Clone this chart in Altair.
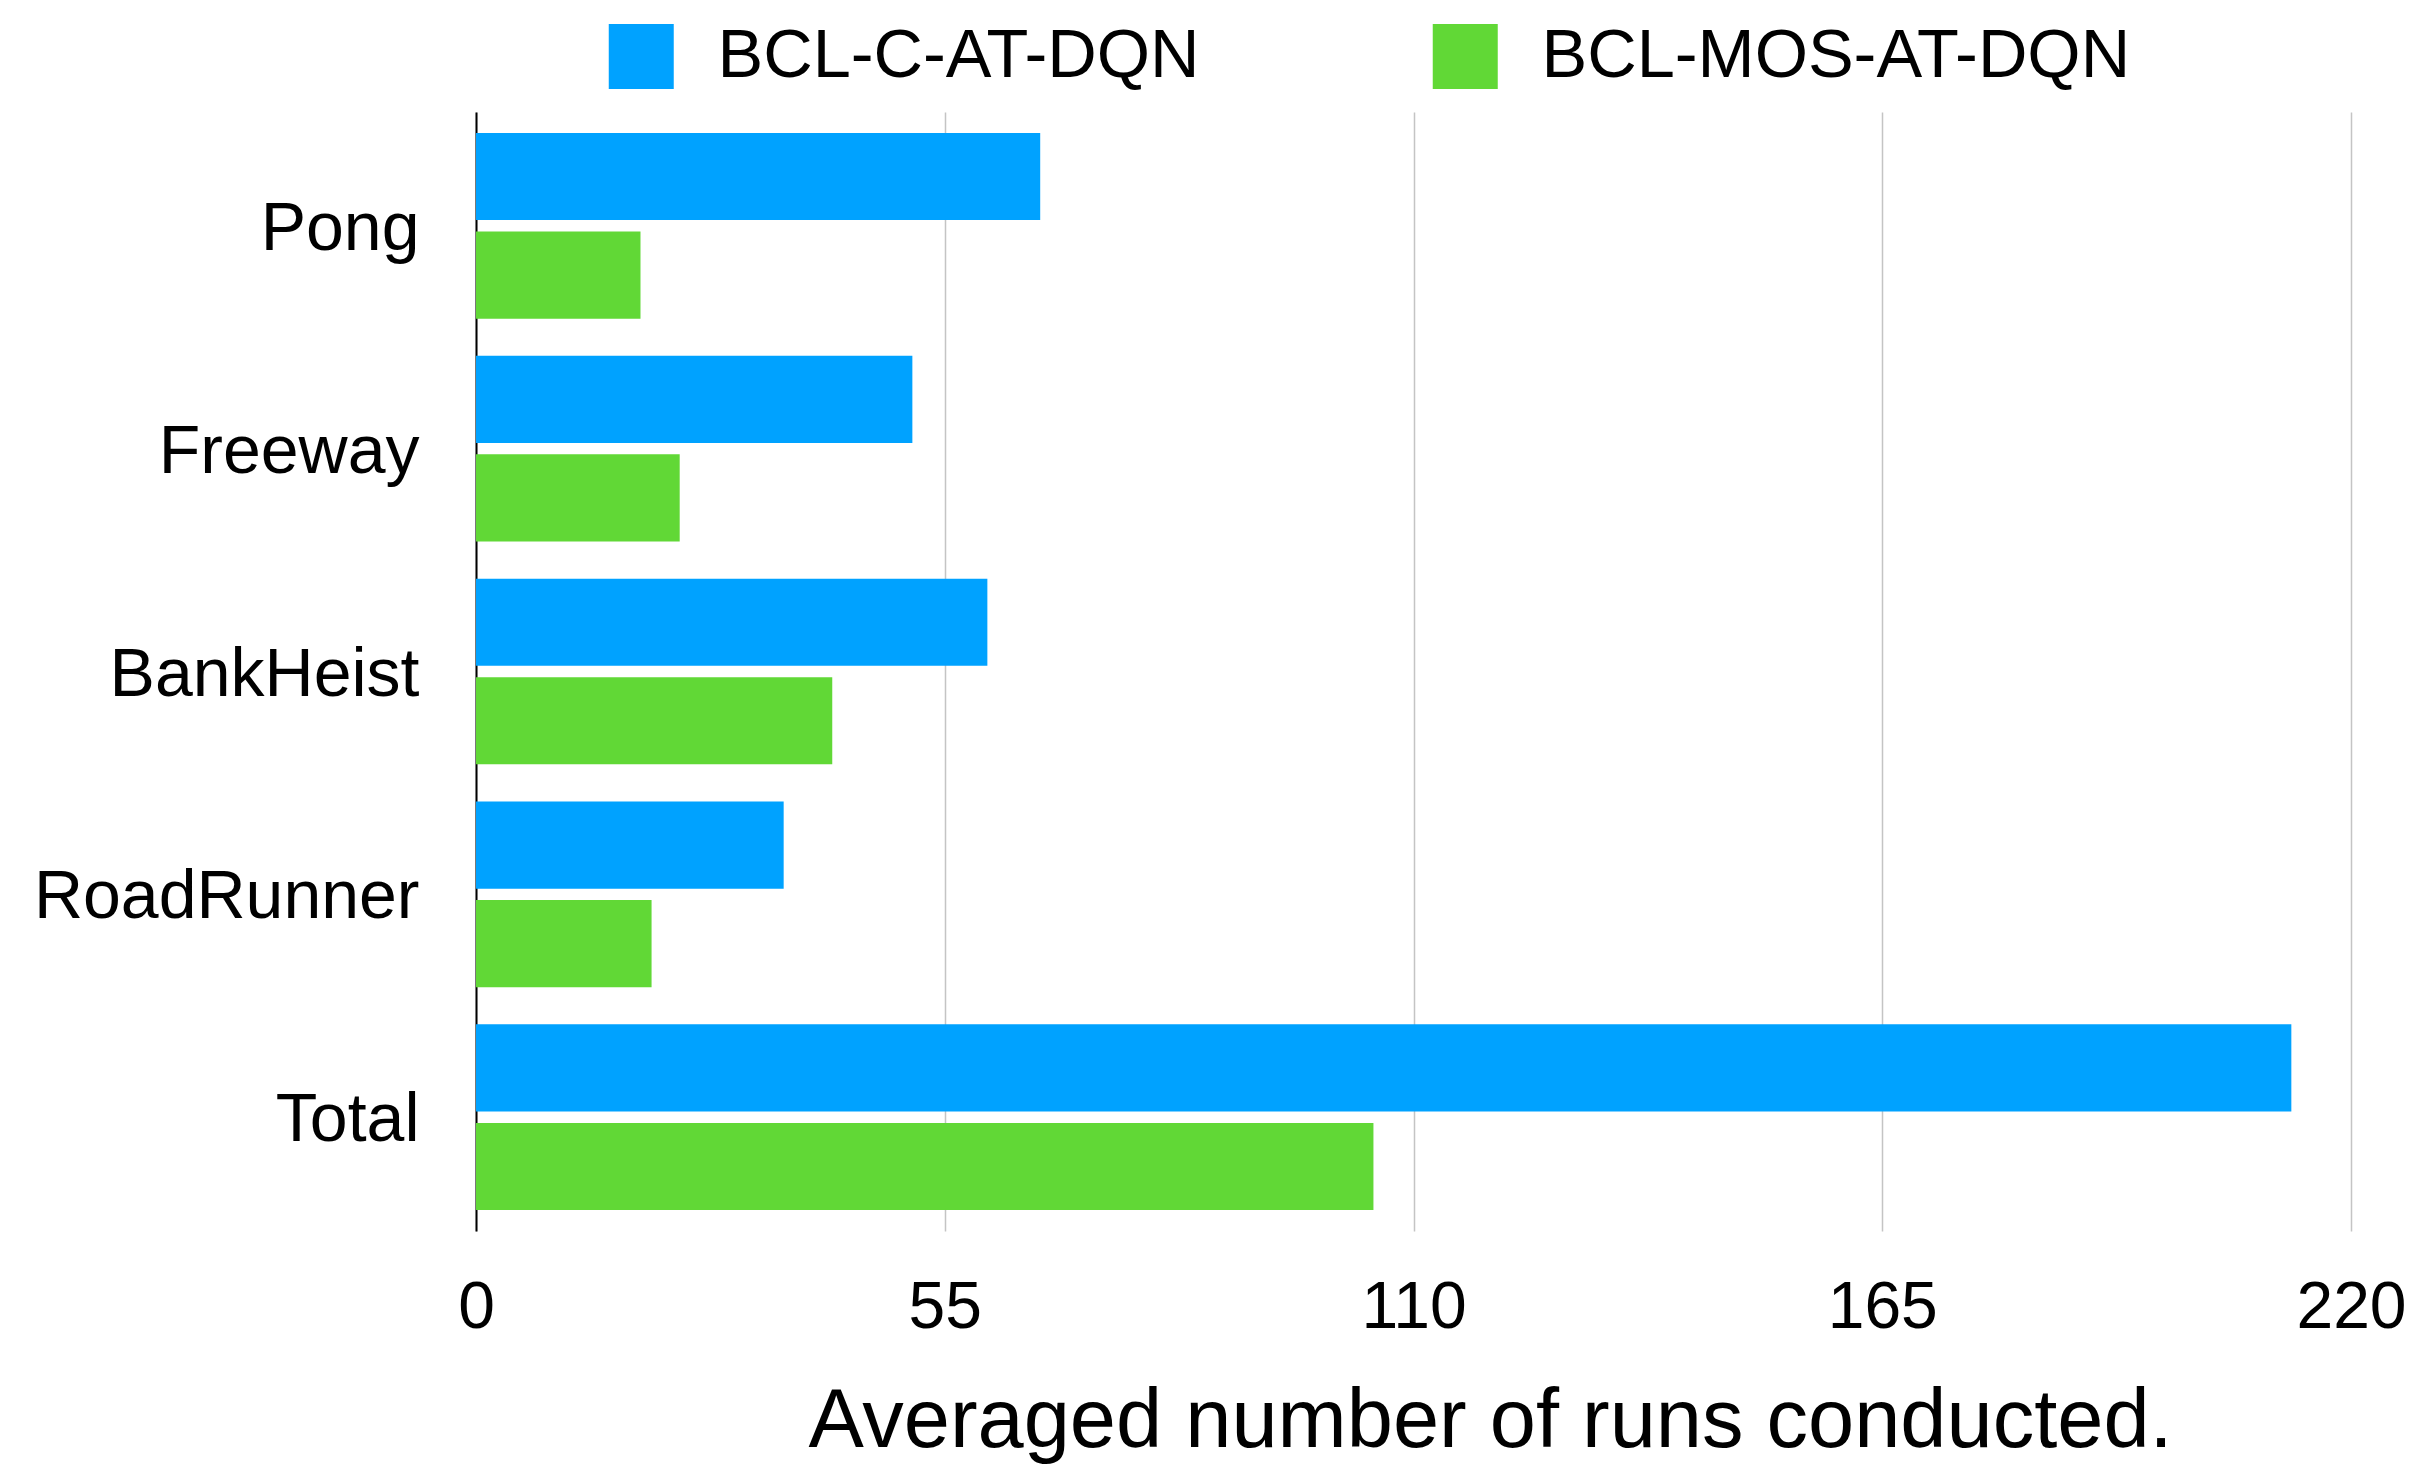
import altair as alt
import pandas as pd

games = ["Pong", "Freeway", "BankHeist", "RoadRunner", "Total"]
series = ["BCL-C-AT-DQN", "BCL-MOS-AT-DQN"]
c_at_dqn = [66.2, 51.2, 60.0, 36.1, 213.0]
mos_at_dqn = [19.3, 23.9, 41.8, 20.6, 105.3]
colors = ["#00A2FF", "#61D836"]
x_ticks = [0, 55, 110, 165, 220]
x_title = "Averaged number of runs conducted."

rows = []
for g, a, b in zip(games, c_at_dqn, mos_at_dqn):
    rows.append({"game": g, "series": series[0], "value": a})
    rows.append({"game": g, "series": series[1], "value": b})
df = pd.DataFrame(rows)

FONT = "Liberation Sans"

chart = alt.Chart(df).mark_bar().encode(
    y=alt.Y(
        "game:N",
        sort=games,
        scale=alt.Scale(paddingInner=0.1667, paddingOuter=0.094),
        axis=alt.Axis(
            title=None,
            labelFontSize=68,
            labelFont=FONT,
            labelColor="black",
            labelPadding=57,
            labelLimit=0,
            labelOffset=4,
            ticks=False,
            tickSize=0,
            domainColor="black",
            domainWidth=2,
            grid=False,
        ),
    ),
    yOffset=alt.YOffset(
        "series:N",
        sort=series,
        scale=alt.Scale(paddingInner=0.116, paddingOuter=0),
    ),
    x=alt.X(
        "value:Q",
        scale=alt.Scale(domain=[0, 220], nice=False),
        axis=alt.Axis(
            values=x_ticks,
            title=x_title,
            titleFont=FONT,
            titleFontSize=83,
            titleFontWeight="normal",
            titleColor="black",
            titleX=1014,
            titleY=215,
            titleAlign="center",
            titleBaseline="alphabetic",
            titleLimit=0,
            labelFont=FONT,
            labelFontSize=66,
            labelColor="black",
            labelPadding=44,
            labelFlush=False,
            labelOverlap=False,
            labelLimit=0,
            ticks=False,
            tickSize=0,
            domain=False,
            grid=True,
            gridColor="#C4C4C4",
            gridWidth=1.5,
        ),
    ),
    color=alt.Color(
        "series:N",
        sort=series,
        scale=alt.Scale(domain=series, range=colors),
        legend=alt.Legend(
            title=None,
            orient="none",
            legendX=131,
            legendY=-90,
            direction="horizontal",
            symbolType="square",
            symbolSize=4225,
            symbolStrokeWidth=0,
            labelFont=FONT,
            labelFontSize=68.5,
            labelColor="black",
            labelOffset=42,
            labelLimit=0,
            columnPadding=231,
            padding=0,
        ),
    ),
).properties(
    width=1875,
    height=1119,
    autosize=alt.AutoSizeParams(type="none"),
    padding={"left": 476, "top": 112, "right": 67, "bottom": 233},
).configure_view(stroke=None)

chart.save("out.html", embed_options={"renderer": "svg", "actions": False})
